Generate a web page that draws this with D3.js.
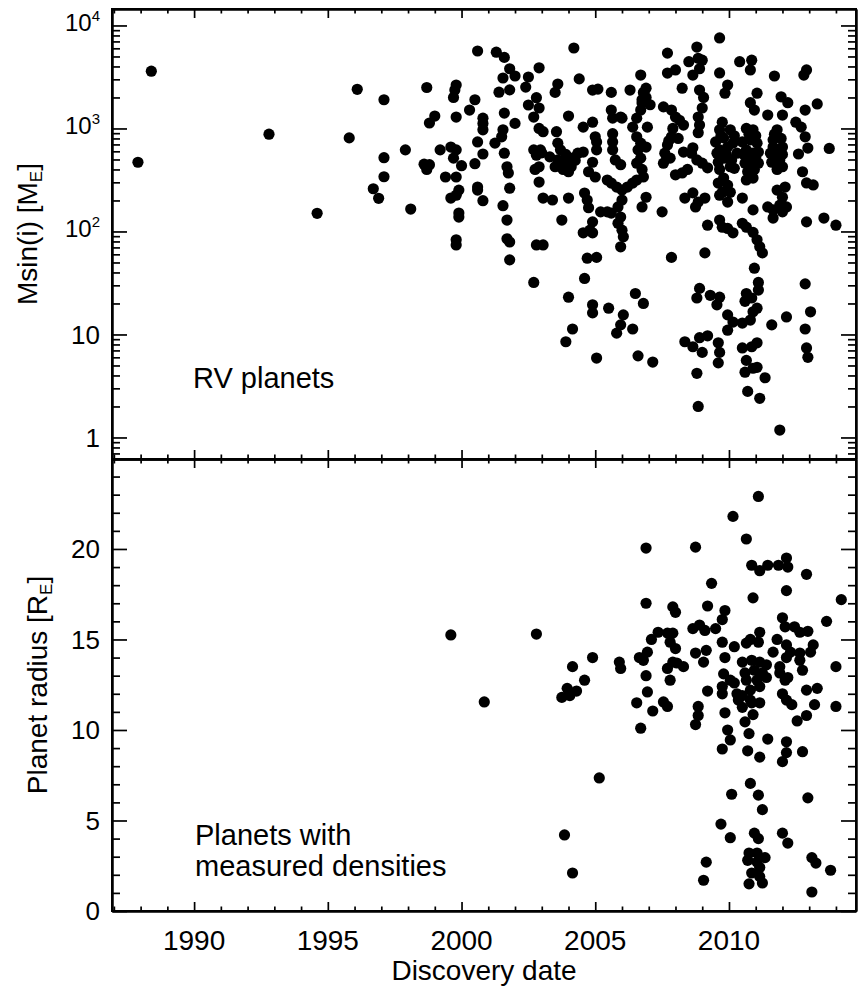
<!DOCTYPE html>
<html>
<head>
<meta charset="utf-8">
<script src="https://cdn.jsdelivr.net/npm/d3@7"></script>
<style>
body { margin: 0; background: #fff; }
svg { display: block; font-family: "Liberation Sans", Arial, Helvetica, sans-serif; }
.axis .domain { stroke: #000; stroke-width: 2; }
.axis .tick line { stroke: #000; stroke-width: 1.7; }
</style>
</head>
<body>
<svg id="chart" width="859" height="990"></svg>
<script>
// [discovery year, Msin(i) in Earth masses]
var rvPoints = [
  [1987.9,470],[1988.4,3600],[1992.8,880],[1994.6,150],[1995.8,810],[1996.1,2400],[1996.7,260],
  [1996.9,210],[1997.1,340],[1997.1,520],[1997.1,1900],[1997.9,620],[1998.1,165],[1998.7,2500],
  [1998.6,450],[1998.7,400],[1998.8,1130],[1999.0,1320],[1998.8,445],
  [1999.8,2640],[1999.75,2360],[1999.7,2000],[2000.5,1900],[2000.3,1510],[1999.8,1290],
  [2000.8,1260],[2000.8,1120],[2000.8,970],[2000.6,5650],[2001.3,5500],[2001.6,4900],[2001.8,3800],
  [2001.55,3090],[2002.0,3230],[2001.8,2370],[2001.4,2250],[2002.9,3880],[2002.5,3160],[2002.4,2520],
  [2001.6,1410],[2002.0,1120],[2002.5,1690],[2002.8,1990],[2002.9,1580],[2002.7,1290],[2002.9,1000],
  [2003.05,930],[2003.6,2700],[2003.5,2240],[2004.0,1320],[2004.2,6040],[2004.4,3030],[2004.9,2360],
  [2005.1,2410],[2005.6,2240],[2006.3,2360],[2006.7,3300],[2006.9,2460],[2006.9,2000],[2006.75,1770],
  [1999.2,620],[1999.6,660],[1999.8,620],[1999.7,515],[2000.0,435],[1999.4,338],[1999.8,338],
  [1999.9,252],[1999.8,225],[1999.6,211],[1999.9,151],[1999.9,138],[1999.8,83],[1999.8,74],
  [2000.5,455],[2000.6,270],[2000.6,252],[2000.8,199],[2000.6,740],[2000.8,565],[2001.25,720],
  [2001.5,830],[2001.55,970],[2001.6,575],[2001.7,425],[2001.75,370],[2001.8,263],[2001.55,178],
  [2001.7,129],[2001.7,85],[2001.8,79],[2001.8,53],[2002.7,620],[2002.95,620],[2002.8,550],
  [2003.0,580],[2002.75,400],[2002.9,425],[2002.9,302],[2003.05,211],[2003.4,202],[2004.0,211],
  [2003.75,129],[2002.8,74],[2003.05,74],[2002.7,32],[2003.3,530],[2003.6,495],[2003.5,425],
  [2003.7,460],[2003.9,470],[2003.6,720],[2003.7,620],[2003.55,930],[2003.8,400],[2004.0,380],
  [2004.1,425],[2004.25,490],[2004.55,590],[2004.35,575],[2004.55,1030],[2004.9,1150],[2005.0,830],
  [2005.05,740],[2005.05,620],[2004.9,470],[2004.75,380],[2005.0,338],[2004.6,236],[2004.7,202],
  [2004.75,170],[2005.2,155],[2005.45,155],[2004.9,124],[2004.8,103],[2004.55,97],[2004.9,97],
  [2004.7,55],[2005.05,56],[2004.6,35],[2004.0,23],[2004.15,11.3],[2003.9,8.5],[2004.9,19.4],
  [2004.9,16.2],[2005.5,18],[2006.05,15.5],[2005.95,12.4],[2005.8,10.3],[2006.4,11.3],[2005.05,5.9],
  [2006.6,6.2],[2006.5,25],[2006.8,20],[2005.6,1510],[2005.65,1260],[2005.95,1290],[2006.0,1260],
  [2005.65,890],[2005.65,740],[2005.65,620],[2005.75,495],[2005.95,445],[2005.45,316],[2005.6,295],
  [2005.8,270],[2006.0,252],[2006.2,270],[2006.4,295],[2006.55,316],[2006.8,338],[2006.0,202],
  [2005.85,173],[2005.6,151],[2005.95,138],[2005.85,120],[2006.0,103],[2006.05,89],[2005.95,71],
  [2006.4,1030],[2006.55,1260],[2006.7,1510],[2006.75,1900],[2006.8,2240],[2006.55,830],[2006.7,720],
  [2006.6,620],[2006.7,515],[2006.55,460],[2006.75,400],[2006.75,173],[2006.9,215],
  [2007.05,1700],[2006.95,1030],[2006.9,660],[2007.5,155],[2007.85,56],[2007.15,5.4],[2007.7,5390],
  [2008.0,3700],[2007.7,3450],[2008.25,2460],[2008.8,6170],[2008.85,4800],[2008.5,4450],[2008.9,3800],
  [2008.65,3300],[2009.0,4600],[2008.9,2360],[2009.05,2000],[2009.0,1580],[2008.85,1290],[2008.9,1080],
  [2008.85,910],[2007.55,1620],[2007.85,1510],[2008.0,1290],[2008.15,1200],[2008.3,1080],[2007.9,1000],
  [2007.85,830],[2007.7,690],[2007.6,575],[2007.8,515],[2007.55,460],[2008.0,355],[2008.25,370],
  [2008.45,400],[2008.3,590],[2008.6,575],[2008.65,650],[2008.8,495],[2009.0,460],[2009.2,415],
  [2008.35,211],[2008.65,237],[2008.85,193],[2009.1,211],[2008.75,173],[2009.2,115],[2009.1,62],
  [2008.9,28],[2008.8,22.6],[2009.3,24],[2009.55,19.4],[2009.65,23],[2008.35,8.5],[2008.65,7.6],
  [2009.0,6.7],[2008.9,9.3],[2009.2,9.7],[2008.8,4.2],[2008.85,2.0],[2009.6,8.3],[2009.65,6.7],
  [2009.6,5.3],[2009.95,15.5],[2009.95,11],[2010.15,13.2],[2010.5,12.9],[2010.8,13.8],[2010.65,25],
  [2010.6,21],[2010.85,22.6],[2011.05,18],[2010.9,16.6],[2011.1,32],[2010.95,44],[2011.1,27],
  [2010.5,7.4],[2010.85,7.6],[2011.05,8.3],[2010.65,5.6],[2010.6,4.3],[2010.9,4.7],[2011.05,4.8],
  [2011.35,3.8],[2010.7,2.8],[2011.15,2.4],[2011.6,12.4],[2012.15,14.8],[2011.9,1.18],[2012.85,31],
  [2013.05,16.6],[2012.85,11.3],[2012.9,7.4],[2012.95,6.0],[2009.65,129],[2009.75,110],[2009.95,107],
  [2010.15,97],[2010.5,120],[2010.65,110],[2010.9,98],[2011.05,83],[2011.15,71],[2011.25,62],
  [2010.9,162],[2010.5,211],[2011.45,173],[2011.65,162],[2011.9,180],[2012.15,173],[2012.0,155],
  [2011.65,135],[2011.8,252],[2012.1,270],[2012.0,215],[2012.9,124],[2013.55,135],[2014.0,115],
  [2013.75,640],[2013.3,1730],[2012.85,1510],[2012.5,1150],[2012.7,1030],[2012.85,830],[2012.95,645],
  [2012.6,565],[2012.75,380],[2012.9,296],[2013.15,283],[2011.95,2030],[2012.2,1780],[2011.45,1350],
  [2012.0,1350],[2011.7,3230],[2011.05,2200],[2010.8,1780],[2010.95,1510],[2010.4,4450],[2010.85,4600],
  [2010.8,3700],[2009.65,3460],[2009.95,2640],[2009.85,2200],[2009.65,7570],[2012.9,3700],[2012.8,3300],
  [2009.75,1150],[2009.65,970],[2009.5,740],[2009.8,810],[2010.05,970],[2009.65,620],[2009.95,660],
  [2010.15,720],[2009.85,515],[2010.1,495],[2010.05,425],[2010.3,575],[2009.55,575],[2009.65,400],
  [2009.8,330],[2009.6,295],[2009.75,240],[2009.95,282],[2010.05,240],[2009.95,193],[2009.65,225],
  [2010.65,1000],[2010.9,970],[2010.5,740],[2010.8,775],[2011.05,720],[2010.65,620],[2010.9,575],
  [2011.1,590],[2010.6,460],[2010.85,460],[2010.7,380],[2010.95,400],[2010.65,316],[2010.9,330],
  [2011.8,970],[2011.65,775],[2011.55,575],[2011.8,620],[2012.0,660],[2011.6,470],[2011.9,495],
  [2012.0,425],[2011.8,400],
  [2009.7,850],[2010.2,850],[2009.9,560],[2010.2,410],[2009.6,470],[2010.75,880],[2011.0,850],
  [2010.75,520],[2011.0,520],[2010.55,560],[2011.1,460],[2011.7,880],[2011.95,800],[2011.7,540],
  [2012.0,560],[2011.65,660],[2008.1,800],[2007.75,760],[2003.9,560],[2004.2,520]
];

// [discovery year, planet radius in Earth radii]
var densityPoints = [
  [1999.6,15.25],[2000.85,11.55],[2002.8,15.3],[2004.15,13.5],[2004.9,14.0],[2004.6,12.75],
  [2003.95,12.3],[2003.75,11.8],[2004.05,11.9],[2005.9,13.75],[2005.95,13.4],[2006.65,14.0],
  [2006.95,14.3],[2006.8,13.85],[2006.9,13.0],[2006.95,12.1],[2006.55,11.5],[2007.15,11.05],
  [2007.55,11.55],[2007.7,11.3],[2006.9,20.05],[2006.9,17.0],[2008.75,20.1],[2010.15,21.8],
  [2011.1,22.9],[2010.65,20.55],[2010.85,19.1],[2011.15,18.8],[2011.45,19.1],[2011.85,19.1],
  [2012.15,19.5],[2012.2,19.0],[2012.9,18.6],[2009.35,18.1],[2010.9,17.3],[2012.15,17.7],
  [2014.2,17.2],[2013.65,16.0],[2009.2,16.85],[2009.85,16.6],[2009.75,16.1],[2009.5,15.6],
  [2007.9,16.8],[2008.0,16.5],[2007.35,15.4],[2007.1,15.0],[2007.7,15.35],[2007.9,15.35],
  [2007.8,14.85],[2008.0,14.5],[2008.65,15.6],[2008.9,15.8],[2009.1,15.5],[2009.75,14.85],
  [2010.2,14.6],[2008.75,14.25],[2009.15,14.4],[2009.05,13.75],[2009.85,14.0],[2007.9,13.75],
  [2007.7,13.4],[2008.05,13.7],[2008.3,13.5],[2007.8,12.75],[2009.8,13.1],[2010.05,12.75],
  [2010.2,12.6],[2009.2,12.15],[2009.75,12.4],[2009.75,12.0],[2010.3,12.0],[2010.35,11.65],
  [2010.8,15.0],[2011.15,15.4],[2011.1,14.85],[2010.65,14.8],[2012.0,16.2],[2012.1,15.7],
  [2012.45,15.7],[2012.65,15.4],[2012.95,15.45],[2011.8,15.0],[2012.15,14.7],[2012.3,14.3],
  [2012.65,14.25],[2013.05,14.3],[2013.15,14.7],[2011.65,14.3],[2012.15,14.0],[2010.5,13.75],
  [2010.85,13.85],[2011.15,13.75],[2011.4,13.6],[2010.6,13.15],[2010.95,13.3],[2011.25,13.15],
  [2010.65,12.75],[2011.05,12.75],[2011.4,12.9],[2010.8,12.2],[2011.15,12.4],[2010.5,11.9],
  [2010.8,11.65],[2011.9,13.5],[2011.9,13.15],[2012.1,12.75],[2012.2,12.9],[2012.0,12.0],
  [2012.15,11.65],[2012.35,11.4],[2012.65,13.85],[2012.75,13.3],[2012.9,12.2],[2013.3,12.3],
  [2014.0,13.5],[2013.2,11.4],[2014.0,11.3],[2012.9,10.8],[2012.55,10.5],[2008.85,11.3],
  [2008.85,10.8],[2009.85,10.95],[2004.3,12.15],[2006.7,10.1],[2008.75,10.3],[2009.95,10.0],
  [2010.05,9.45],[2009.75,8.95],[2010.5,11.25],[2010.85,11.5],[2011.15,11.5],[2010.9,10.85],
  [2010.6,10.45],[2010.75,9.8],[2010.7,8.85],[2011.15,8.5],[2011.45,9.5],[2012.15,9.35],
  [2012.15,8.75],[2012.0,8.25],[2012.75,8.8],[2005.15,7.35],[2010.8,7.05],[2011.1,6.4],
  [2011.25,5.6],[2010.1,6.45],[2012.95,6.25],[2009.7,4.8],[2010.05,4.05],[2010.95,4.3],
  [2011.1,4.0],[2012.0,4.3],[2012.2,3.75],[2003.85,4.2],[2004.15,2.1],[2009.15,2.7],
  [2009.05,1.7],[2010.75,3.2],[2011.05,3.2],[2011.35,2.95],[2010.7,2.8],[2011.05,2.7],
  [2011.15,2.4],[2010.85,2.1],[2011.15,1.9],[2010.75,1.5],[2011.25,1.55],[2013.1,2.95],
  [2013.25,2.65],[2013.8,2.25],[2013.1,1.05]
];

var yearTicks = [1990, 1995, 2000, 2005, 2010];
var massTicks = [1, 10, 100, 1000, 10000];
var radiusTicks = [0, 5, 10, 15, 20];

var left = 112, right = 856, top1 = 9, mid = 459, bottom = 911;
var svg = d3.select('#chart');

var x = d3.scaleLinear().domain([1986.93, 2014.75]).range([left, right]);
var yMass = d3.scaleLog().domain([0.618, 14450]).range([mid, top1]);
var yRad = d3.scaleLinear().domain([0, 24.97]).range([bottom, mid]);

var minorYears = d3.range(1987, 2015).filter(function(d){ return d % 5 !== 0; });
var minorMass = yMass.ticks().filter(function(d){ return massTicks.indexOf(d) < 0; });
var minorRad = d3.range(1, 25).filter(function(d){ return d % 5 !== 0; });

function addAxis(axis, tx, ty) {
    svg.append('g')
        .attr('class', 'axis')
        .attr('transform', 'translate(' + tx + ',' + ty + ')')
        .call(axis.tickFormat('').tickSizeOuter(0));
}

// x ticks, top and bottom of both panels (inward)
[[d3.axisTop, top1], [d3.axisBottom, mid], [d3.axisTop, mid], [d3.axisBottom, bottom]].forEach(function(a){
    addAxis(a[0](x).tickValues(yearTicks).tickSize(-9), 0, a[1]);
    addAxis(a[0](x).tickValues(minorYears).tickSize(-4.5), 0, a[1]);
});

// y ticks, left and right
[[d3.axisLeft, left], [d3.axisRight, right]].forEach(function(a){
    addAxis(a[0](yMass).tickValues(massTicks).tickSize(-15), a[1], 0);
    addAxis(a[0](yMass).tickValues(minorMass).tickSize(-8), a[1], 0);
    addAxis(a[0](yRad).tickValues(radiusTicks).tickSize(-15), a[1], 0);
    addAxis(a[0](yRad).tickValues(minorRad).tickSize(-8), a[1], 0);
});

// frames
svg.append('rect').attr('x', left).attr('y', top1).attr('width', right - left).attr('height', bottom - top1)
    .attr('fill', 'none').attr('stroke', '#000').attr('stroke-width', 2);
svg.append('line').attr('x1', left).attr('x2', right).attr('y1', mid).attr('y2', mid)
    .attr('stroke', '#000').attr('stroke-width', 2);

// tick labels
svg.append('g').selectAll('text').data(yearTicks).enter().append('text')
    .attr('x', function(d){ return x(d); }).attr('y', 950)
    .attr('text-anchor', 'middle').attr('font-size', 28)
    .text(function(d){ return d; });

var ml = svg.append('g').selectAll('text').data(massTicks).enter().append('text')
    .attr('x', 100).attr('y', function(d){ return yMass(d); })
    .attr('text-anchor', 'end');
ml.each(function(d){
    var t = d3.select(this);
    var p = Math.round(Math.log10(d));
    if (p < 2) {
        t.attr('font-size', 26).attr('dy', '0.36em').text(d);
    } else {
        t.attr('dy', '0.36em');
        t.append('tspan').attr('font-size', 24).text('10');
        t.append('tspan').attr('font-size', 15).attr('dy', -10).text(p);
    }
});

svg.append('g').selectAll('text').data(radiusTicks).enter().append('text')
    .attr('x', 100).attr('y', function(d){ return yRad(d); })
    .attr('dy', '0.36em').attr('text-anchor', 'end').attr('font-size', 26)
    .text(function(d){ return d; });

// axis titles
var t1 = svg.append('text').attr('transform', 'translate(37,' + ((top1 + mid) / 2) + ') rotate(-90)')
    .attr('text-anchor', 'middle').attr('font-size', 28);
t1.append('tspan').text('Msin(i) [M');
t1.append('tspan').attr('font-size', 17).attr('dy', 5).text('E');
t1.append('tspan').attr('dy', -5).text(']');

var t2 = svg.append('text').attr('transform', 'translate(47,' + ((mid + bottom) / 2) + ') rotate(-90)')
    .attr('text-anchor', 'middle').attr('font-size', 28);
t2.append('tspan').text('Planet radius [R');
t2.append('tspan').attr('font-size', 17).attr('dy', 5).text('E');
t2.append('tspan').attr('dy', -5).text(']');

svg.append('text').attr('x', (left + right) / 2).attr('y', 980)
    .attr('text-anchor', 'middle').attr('font-size', 28).text('Discovery date');

// panel notes
svg.append('text').attr('x', 193).attr('y', 388).attr('font-size', 29).text('RV planets');
svg.append('text').attr('x', 195).attr('y', 845).attr('font-size', 29).text('Planets with');
svg.append('text').attr('x', 195).attr('y', 876).attr('font-size', 29).text('measured densities');

// points
svg.append('g').selectAll('circle').data(rvPoints).enter().append('circle')
    .attr('cx', function(d){ return x(d[0]); })
    .attr('cy', function(d){ return yMass(d[1]); })
    .attr('r', 5.6).attr('fill', '#000');

svg.append('g').selectAll('circle').data(densityPoints).enter().append('circle')
    .attr('cx', function(d){ return x(d[0]); })
    .attr('cy', function(d){ return yRad(d[1]); })
    .attr('r', 5.6).attr('fill', '#000');
</script>
</body>
</html>
